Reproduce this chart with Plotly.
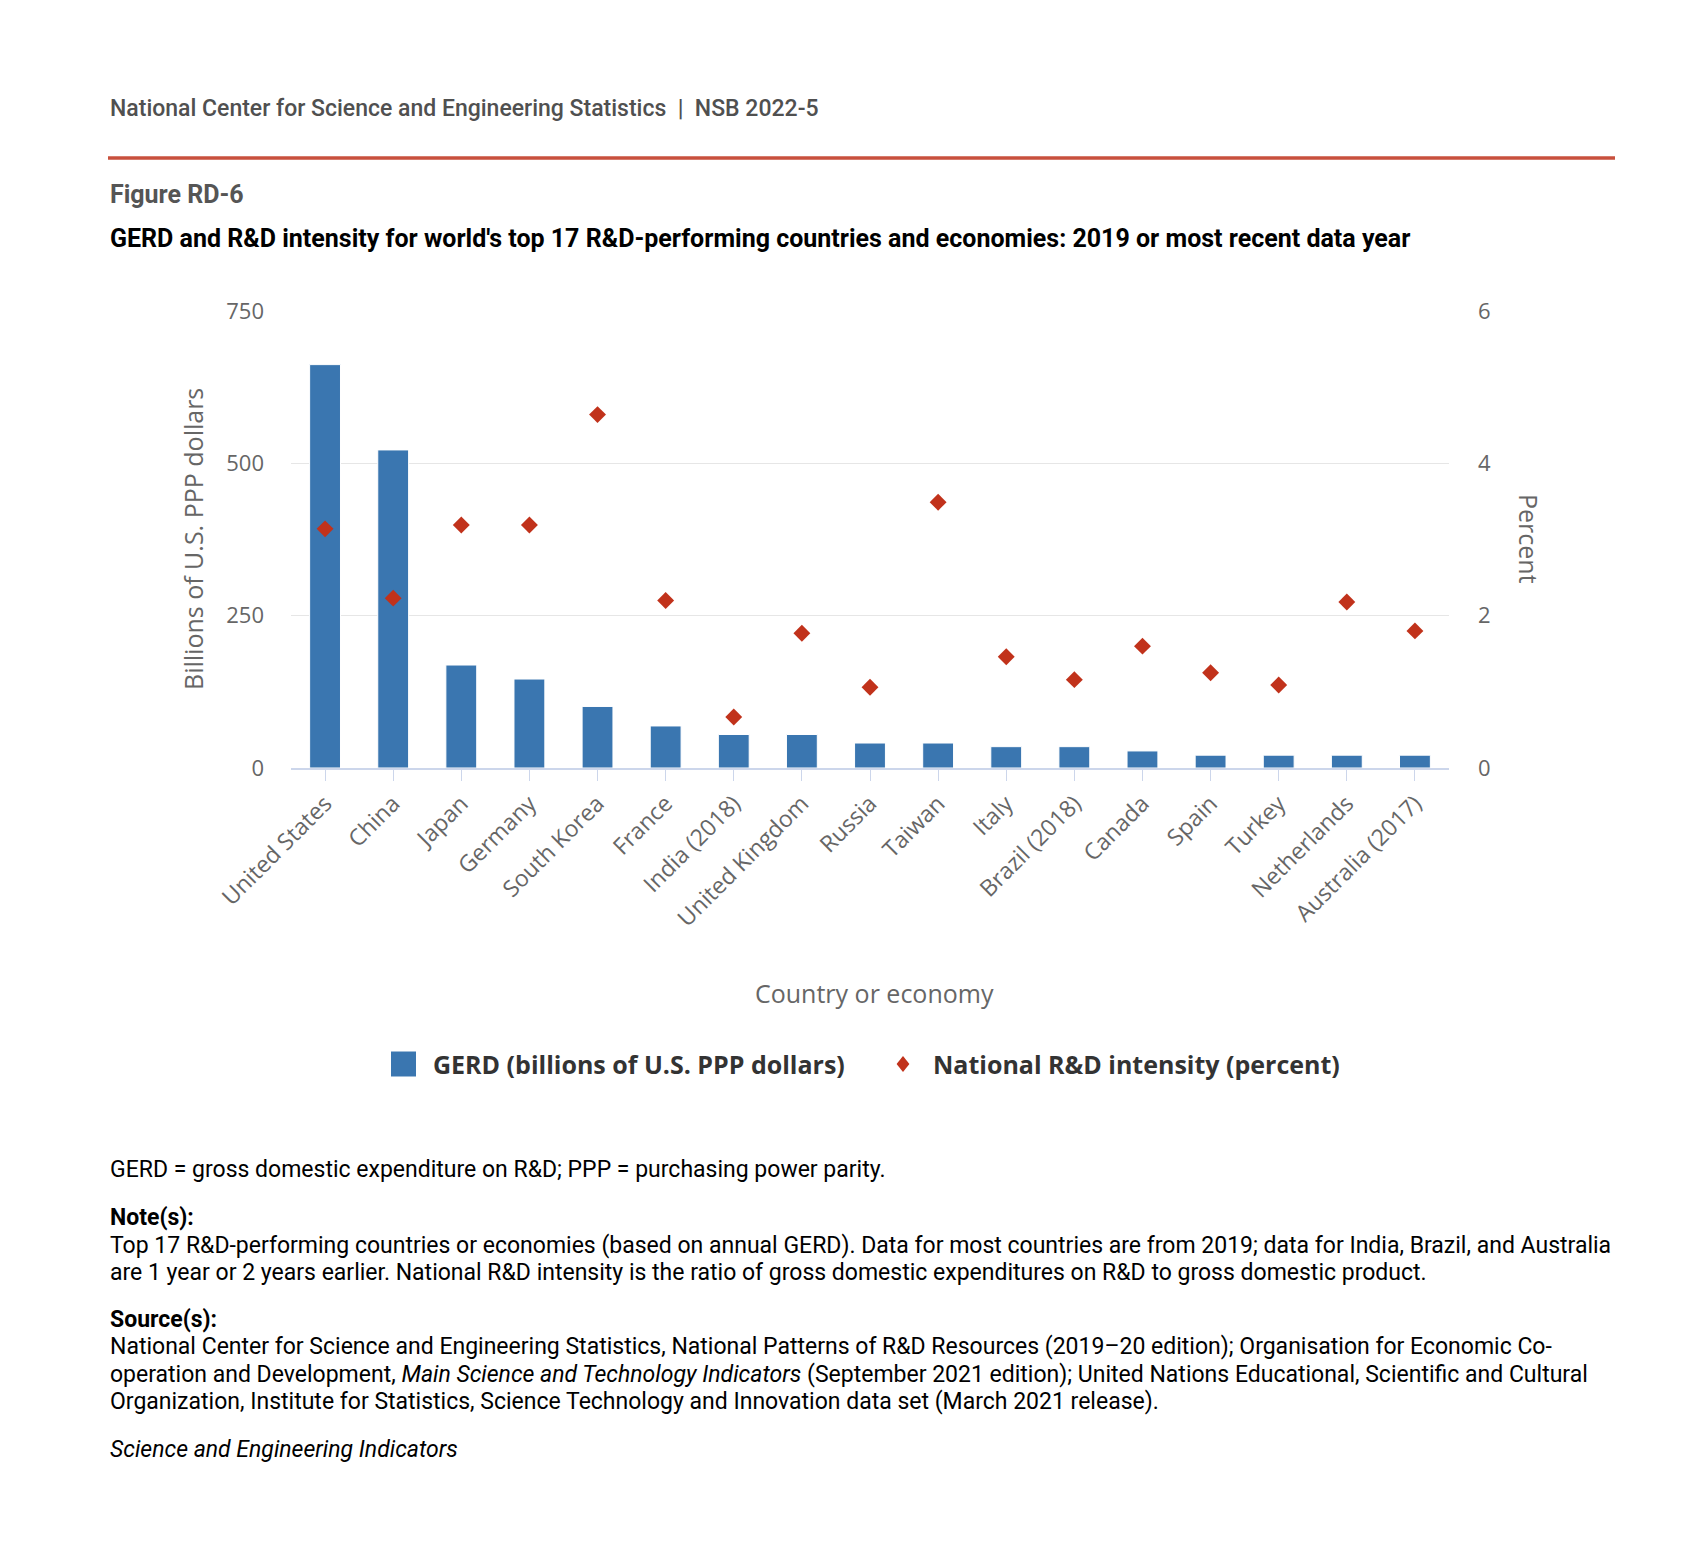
import plotly.graph_objects as go

countries = ["United States", "China", "Japan", "Germany", "South Korea", "France",
             "India (2018)", "United Kingdom", "Russia", "Taiwan", "Italy", "Brazil (2018)",
             "Canada", "Spain", "Turkey", "Netherlands", "Australia (2017)"]
gerd = [662, 522, 169, 146, 101, 69, 55, 55, 41, 41, 35, 35, 28, 21, 21, 21, 21]
intensity = [3.14, 2.23, 3.19, 3.19, 4.64, 2.20, 0.67, 1.77, 1.06, 3.49, 1.46, 1.16,
             1.60, 1.25, 1.09, 2.18, 1.80]
left_ticks = [0, 250, 500, 750]
right_ticks = [0, 2, 4, 6]
series_names = ["GERD (billions of U.S. PPP dollars)", "National R&D intensity (percent)"]

BAR_COLOR = "#3a76b0"
DOT_COLOR = "#c1321b"

W, H = 1699, 1557
PL, PR, PT, PB = 283, 1441, 303, 760

def px(x):
    return (x - PL) / (PR - PL)

def py(y):
    return (PB - y) / (PB - PT)

fig = go.Figure()
fig.add_trace(go.Bar(
    x=countries, y=gerd, name=series_names[0], showlegend=False,
    marker=dict(color=BAR_COLOR, line=dict(color="#ffffff", width=1)),
    yaxis="y",
))
fig.add_trace(go.Scatter(
    x=countries, y=intensity, name=series_names[1], showlegend=False,
    mode="markers", marker=dict(symbol="diamond", size=13, color=DOT_COLOR),
    yaxis="y2",
))

tickfont = dict(family="Open Sans", size=22, color="#666666")

fig.update_layout(
    width=W, height=H,
    margin=dict(l=PL, r=W - PR, t=PT, b=H - PB),
    paper_bgcolor="white", plot_bgcolor="white",
    bargap=0.547,
    showlegend=False,
    xaxis=dict(
        type="category", tickangle=-45, range=[-0.5, len(countries) - 0.5],
        tickfont=dict(family="Open Sans", size=23, color="#666666"),
        showline=True, linecolor="#ccd6eb", linewidth=2,
        ticks="outside", ticklen=11, tickcolor="#ccd6eb", tickwidth=1,
        showgrid=False, zeroline=False,
    ),
    yaxis=dict(
        range=[0, 750], tickvals=left_ticks, tickfont=tickfont,
        showgrid=True, gridcolor="#e6e6e6", gridwidth=1, zeroline=False,
        ticks="", ticklabelstandoff=26,
    ),
    yaxis2=dict(
        range=[0, 6], tickvals=right_ticks, tickfont=tickfont,
        overlaying="y", side="right", showgrid=False, zeroline=False,
        ticks="", ticklabelstandoff=28,
    ),
)

def roboto(size, color="#000000", weight="normal"):
    return dict(family="Roboto", size=size, color=color, weight=weight)

annotations = [
    dict(text="National Center for Science and Engineering Statistics  |  NSB 2022-5",
         x=px(100), y=py(100), xanchor="left", yanchor="middle", font=roboto(23, "#505050", 500)),
    dict(text="<b>Figure RD-6</b>", x=px(100), y=py(186), xanchor="left", yanchor="middle",
         font=roboto(25, "#555555")),
    dict(text="<b>GERD and R&D intensity for world's top 17 R&D-performing countries and economies: 2019 or most recent data year</b>",
         x=px(100), y=py(231), xanchor="left", yanchor="middle", font=roboto(25)),
    dict(text="Billions of U.S. PPP dollars", x=px(185), y=py(531), textangle=-90,
         xanchor="center", yanchor="middle",
         font=dict(family="Open Sans", size=25, color="#666666")),
    dict(text="Percent", x=px(1521), y=py(531), textangle=90,
         xanchor="center", yanchor="middle",
         font=dict(family="Open Sans", size=25, color="#666666")),
    dict(text="Country or economy", x=px(866), y=py(985), xanchor="center", yanchor="middle",
         font=dict(family="Open Sans", size=25, color="#666666")),
    # legend
    dict(text="<b>" + series_names[0] + "</b>", x=px(423), y=py(1056), xanchor="left", yanchor="middle",
         font=dict(family="Open Sans", size=25, color="#333333")),
    dict(text="<b>" + series_names[1] + "</b>", x=px(923), y=py(1056), xanchor="left", yanchor="middle",
         font=dict(family="Open Sans", size=25, color="#333333")),
    # notes
    dict(text="GERD = gross domestic expenditure on R&D; PPP = purchasing power parity.",
         x=px(100), y=py(1161), xanchor="left", yanchor="middle", font=roboto(23)),
    dict(text="<b>Note(s):</b>", x=px(100), y=py(1209), xanchor="left", yanchor="middle",
         font=roboto(23)),
    dict(text="Top 17 R&D-performing countries or economies (based on annual GERD). Data for most countries are from 2019; data for India, Brazil, and Australia",
         x=px(100), y=py(1237), xanchor="left", yanchor="middle", font=roboto(23)),
    dict(text="are 1 year or 2 years earlier. National R&D intensity is the ratio of gross domestic expenditures on R&D to gross domestic product.",
         x=px(100), y=py(1264), xanchor="left", yanchor="middle", font=roboto(23)),
    dict(text="<b>Source(s):</b>", x=px(100), y=py(1311), xanchor="left", yanchor="middle",
         font=roboto(23)),
    dict(text="National Center for Science and Engineering Statistics, National Patterns of R&D Resources (2019–20 edition); Organisation for Economic Co-",
         x=px(100), y=py(1338), xanchor="left", yanchor="middle", font=roboto(23)),
    dict(text="operation and Development, <i>Main Science and Technology Indicators</i> (September 2021 edition); United Nations Educational, Scientific and Cultural",
         x=px(100), y=py(1366), xanchor="left", yanchor="middle", font=roboto(23)),
    dict(text="Organization, Institute for Statistics, Science Technology and Innovation data set (March 2021 release).",
         x=px(100), y=py(1393), xanchor="left", yanchor="middle", font=roboto(23)),
    dict(text="<i>Science and Engineering Indicators</i>", x=px(100), y=py(1442),
         xanchor="left", yanchor="middle", font=roboto(23)),
]
for a in annotations:
    a.update(xref="paper", yref="paper", showarrow=False)
fig.update_layout(annotations=annotations)

# red rule under header
fig.add_shape(type="line", xref="paper", yref="paper", x0=px(100), x1=px(1607),
              y0=py(150), y1=py(150), line=dict(color="#c8503d", width=3.5))
# legend symbols
fig.add_shape(type="rect", xref="paper", yref="paper", x0=px(383), x1=px(408),
              y0=py(1068.5), y1=py(1043.5), fillcolor=BAR_COLOR, line=dict(width=0))
cx, cy, r = 895, 1056, 8
fig.add_shape(type="path", xref="paper", yref="paper",
              path=f"M {px(cx)} {py(cy - r)} L {px(cx + r * 0.8)} {py(cy)} L {px(cx)} {py(cy + r)} L {px(cx - r * 0.8)} {py(cy)} Z",
              fillcolor=DOT_COLOR, line=dict(width=0))

fig.write_html("out.html")
